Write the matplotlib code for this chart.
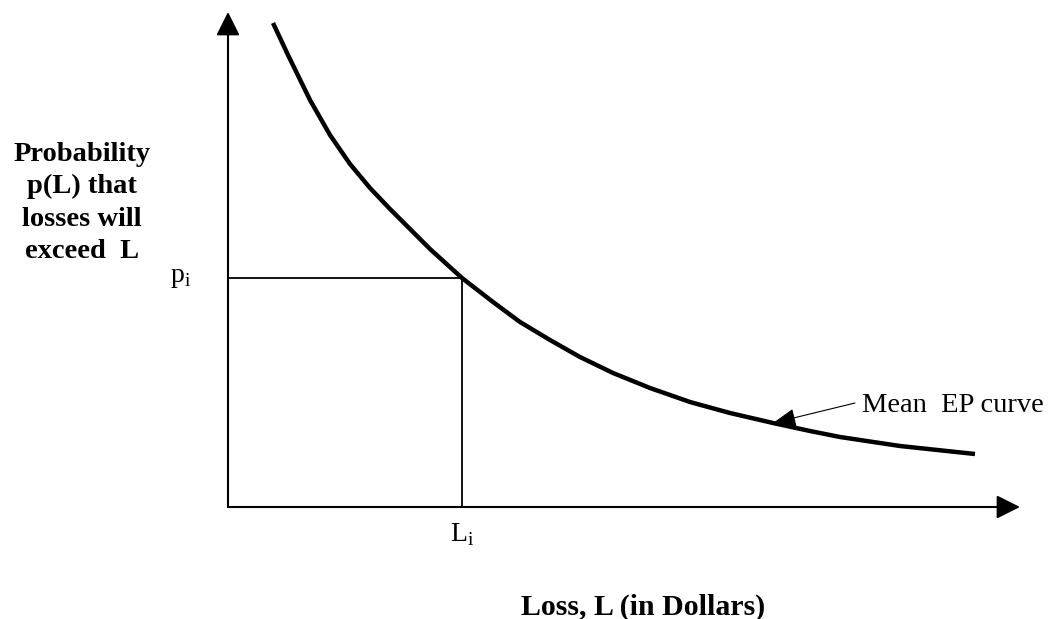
import matplotlib
matplotlib.use("Agg")
import matplotlib.pyplot as plt

plt.rcParams['font.family'] = ['Liberation Serif', 'DejaVu Serif']
plt.rcParams['mathtext.fontset'] = 'custom'
plt.rcParams['mathtext.rm'] = 'Liberation Serif'

# mean EP curve (loss, exceedance probability), arbitrary units
loss = [45, 60, 82, 102, 122, 142, 162, 182, 202, 234, 265, 292, 322, 352,
        385, 422, 462, 502, 545, 582, 612, 672, 747]
prob = [484, 452, 407, 372, 343, 319, 298, 278, 258, 229, 205, 185, 167, 150,
        134, 119, 105, 94, 84, 76, 70, 61, 53]

# marked point on the curve
L_i = 234
p_i = 229

# where the label arrow points on the curve
ep_arrow_at = (545, 84)

x_axis_end = 792
y_axis_end = 495

fig = plt.figure(figsize=(10.54, 6.19), dpi=100)
ax = fig.add_axes([0, 0, 1, 1])
ax.set_xlim(-228, 826)
ax.set_ylim(-112, 507)
ax.axis('off')

axis_arrow = dict(arrowstyle='-|>,head_length=0.8,head_width=0.4', mutation_scale=18,
                  lw=1.5, color='black', shrinkA=0, shrinkB=0)
ax.annotate('', xy=(0, y_axis_end), xytext=(0, 0), arrowprops=axis_arrow)
ax.annotate('', xy=(x_axis_end, 0), xytext=(0, 0), arrowprops=axis_arrow)

# the curve
ax.plot(loss, prob, color='black', lw=3.2, solid_capstyle='butt', solid_joinstyle='round')

# guide lines to p_i and L_i
ax.plot([0, L_i], [p_i, p_i], color='black', lw=1.3)
ax.plot([L_i, L_i], [0, p_i], color='black', lw=1.3)

ax.text(-47, p_i, r'p$_{\rm i}$', fontsize=20, ha='center', va='center')
ax.text(L_i, -28, r'L$_{\rm i}$', fontsize=20, ha='center', va='center')

# label with arrow
ax.annotate('', xy=ep_arrow_at, xytext=(627, 104),
            arrowprops=dict(arrowstyle='-|>,head_length=0.8,head_width=0.32',
                            mutation_scale=18, lw=0.8, color='black',
                            shrinkA=0, shrinkB=0))
ax.text(634, 102, 'Mean  EP curve', fontsize=20.5, ha='left', va='center')

fig.text(82 / 1054, 1 - 203 / 619, 'Probability\np(L) that\nlosses will\nexceed  L',
         fontsize=20.5, fontweight='bold', ha='center', va='center', linespacing=1.39)
fig.text(643 / 1054, 1 - 607 / 619, 'Loss, L (in Dollars)',
         fontsize=21.5, fontweight='bold', ha='center', va='center')

fig.savefig('out.png', dpi=100)
